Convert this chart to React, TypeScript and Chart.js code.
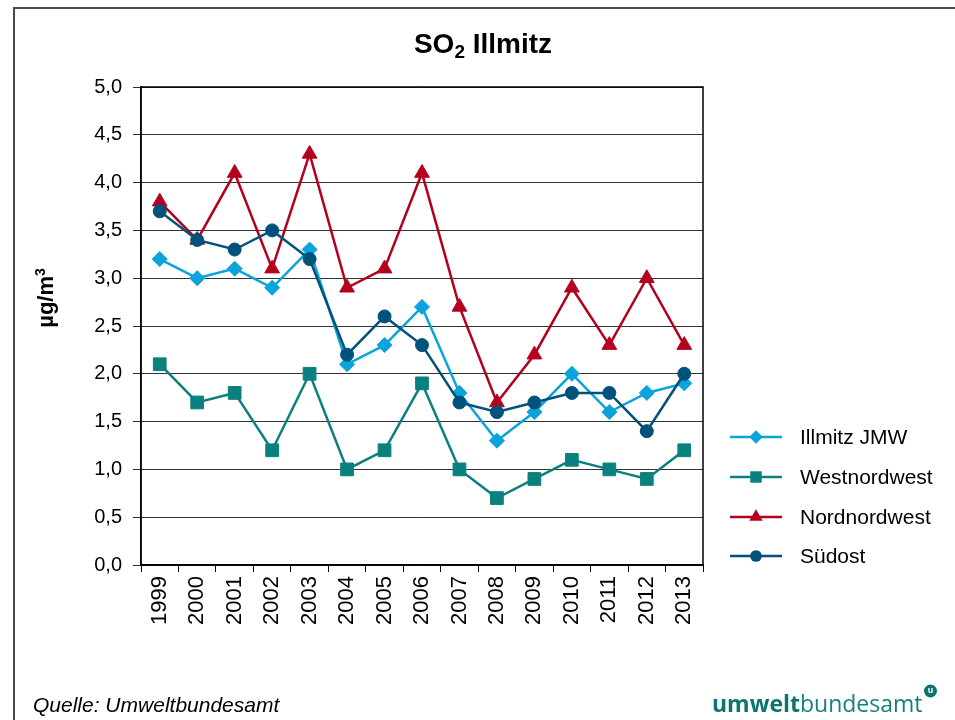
import React, { useEffect, useRef } from 'react';
import { Chart, registerables } from 'chart.js';

Chart.register(...registerables);

const years = ['1999', '2000', '2001', '2002', '2003', '2004', '2005', '2006', '2007', '2008', '2009', '2010', '2011', '2012', '2013'];
const illmitzJMW = [3.2, 3.0, 3.1, 2.9, 3.3, 2.1, 2.3, 2.7, 1.8, 1.3, 1.6, 2.0, 1.6, 1.8, 1.9];
const westnordwest = [2.1, 1.7, 1.8, 1.2, 2.0, 1.0, 1.2, 1.9, 1.0, 0.7, 0.9, 1.1, 1.0, 0.9, 1.2];
const nordnordwest = [3.8, 3.4, 4.1, 3.1, 4.3, 2.9, 3.1, 4.1, 2.7, 1.7, 2.2, 2.9, 2.3, 3.0, 2.3];
const suedost = [3.7, 3.4, 3.3, 3.5, 3.2, 2.2, 2.6, 2.3, 1.7, 1.6, 1.7, 1.8, 1.8, 1.4, 2.0];

const seriesNames = ['Illmitz JMW', 'Westnordwest', 'Nordnordwest', 'Südost'];
const seriesColors = ['#0AA3DC', '#0A817E', '#B4001E', '#00527C'];
const seriesStyles = ['rectRot', 'rect', 'triangle', 'circle'];
const seriesRadius = [7.5, 9, 8.5, 6.5];

const FONT = '"Liberation Sans", Arial, Helvetica, sans-serif';

function drawMarker(ctx: CanvasRenderingContext2D, style: string, x: number, y: number, r: number) {
  ctx.beginPath();
  if (style === 'circle') {
    ctx.arc(x, y, r, 0, Math.PI * 2);
  } else if (style === 'rect') {
    const s = Math.SQRT1_2 * r;
    ctx.rect(x - s, y - s, 2 * s, 2 * s);
  } else if (style === 'rectRot') {
    ctx.moveTo(x, y - r);
    ctx.lineTo(x + r, y);
    ctx.lineTo(x, y + r);
    ctx.lineTo(x - r, y);
    ctx.closePath();
  } else if (style === 'triangle') {
    const c = Math.cos(Math.PI / 6) * r;
    const s = Math.sin(Math.PI / 6) * r;
    ctx.moveTo(x, y - r);
    ctx.lineTo(x + c, y + s);
    ctx.lineTo(x - c, y + s);
    ctx.closePath();
  }
  ctx.fill();
}

const decorPlugin = {
  id: 'decor',
  afterDraw(chart: any) {
    const ctx: CanvasRenderingContext2D = chart.ctx;
    const ca = chart.chartArea;
    ctx.save();
    // plot border
    ctx.strokeStyle = '#000';
    ctx.lineWidth = 1.5;
    ctx.strokeRect(ca.left, ca.top, ca.right - ca.left, ca.bottom - ca.top);

    // outer frame
    ctx.strokeStyle = '#4a4a4a';
    ctx.lineWidth = 2;
    ctx.beginPath();
    ctx.moveTo(14, 720);
    ctx.lineTo(14, 8);
    ctx.lineTo(955, 8);
    ctx.stroke();

    // title
    ctx.fillStyle = '#000';
    ctx.textBaseline = 'alphabetic';
    ctx.textAlign = 'left';
    const big = `bold 28px ${FONT}`;
    const small = `bold 19px ${FONT}`;
    ctx.font = big;
    const wSO = ctx.measureText('SO').width;
    const wIll = ctx.measureText(' Illmitz').width;
    ctx.font = small;
    const w2 = ctx.measureText('2').width;
    const total = wSO + w2 + wIll;
    let tx = 483 - total / 2;
    const ty = 53;
    ctx.font = big;
    ctx.fillText('SO', tx, ty);
    tx += wSO;
    ctx.font = small;
    ctx.fillText('2', tx, ty + 5);
    tx += w2;
    ctx.font = big;
    ctx.fillText(' Illmitz', tx, ty);

    // y axis title
    ctx.save();
    ctx.translate(53, 298);
    ctx.rotate(-Math.PI / 2);
    ctx.font = `bold 22px ${FONT}`;
    const wMu = ctx.measureText('µg/m').width;
    ctx.font = `bold 14px ${FONT}`;
    const w3 = ctx.measureText('3').width;
    const tw = wMu + w3;
    ctx.font = `bold 22px ${FONT}`;
    ctx.fillText('µg/m', -tw / 2, 0);
    ctx.font = `bold 14px ${FONT}`;
    ctx.fillText('3', -tw / 2 + wMu, -8);
    ctx.restore();

    // legend
    ctx.font = `21px ${FONT}`;
    ctx.textBaseline = 'middle';
    const ly = [437, 477, 517, 556];
    for (let i = 0; i < seriesNames.length; i++) {
      const y = ly[i];
      ctx.strokeStyle = seriesColors[i];
      ctx.fillStyle = seriesColors[i];
      ctx.lineWidth = 2.5;
      ctx.beginPath();
      ctx.moveTo(730, y);
      ctx.lineTo(782, y);
      ctx.stroke();
      drawMarker(ctx, seriesStyles[i], 756, y, seriesRadius[i] * 0.9);
      ctx.fillStyle = '#000';
      ctx.fillText(seriesNames[i], 800, y + 1);
    }

    // footer
    ctx.textBaseline = 'alphabetic';
    ctx.fillStyle = '#000';
    ctx.font = `italic 21px ${FONT}`;
    ctx.fillText('Quelle: Umweltbundesamt', 33, 712);

    // logo
    const logoColor = '#0B746F';
    ctx.fillStyle = logoColor;
    ctx.font = `bold 23px "Open Sans", "Noto Sans", sans-serif`;
    ctx.fillText('umwelt', 712, 712);
    const wu = ctx.measureText('umwelt').width;
    ctx.font = `23px "Open Sans", "Noto Sans", sans-serif`;
    ctx.fillStyle = '#16807A';
    ctx.fillText('bundesamt', 712 + wu, 712);
    const wb = ctx.measureText('bundesamt').width;
    const cx = 712 + wu + wb + 8;
    ctx.fillStyle = logoColor;
    ctx.beginPath();
    ctx.arc(cx, 691, 6.5, 0, Math.PI * 2);
    ctx.fill();
    ctx.fillStyle = '#fff';
    ctx.font = `bold 9px ${FONT}`;
    ctx.textAlign = 'center';
    ctx.textBaseline = 'middle';
    ctx.fillText('u', cx, 691);
    ctx.restore();
  },
};

export default function App() {
  const ref = useRef<HTMLCanvasElement | null>(null);
  useEffect(() => {
    if (!ref.current) return;
    const datasets = [illmitzJMW, westnordwest, nordnordwest, suedost].map((d, i) => ({
      label: seriesNames[i],
      data: d,
      borderColor: seriesColors[i],
      backgroundColor: seriesColors[i],
      pointBackgroundColor: seriesColors[i],
      pointBorderColor: seriesColors[i],
      pointStyle: seriesStyles[i] as any,
      pointRadius: seriesRadius[i],
      pointBorderWidth: 1,
      borderWidth: 2.5,
      tension: 0,
      order: 3 - i,
    }));
    const chart = new Chart(ref.current, {
      type: 'line',
      data: { labels: years, datasets },
      options: {
        animation: false,
        responsive: false,
        devicePixelRatio: 1,
        layout: { padding: { top: 87, right: 252, bottom: 0, left: 0 } },
        plugins: {
          legend: { display: false },
          title: { display: false },
          tooltip: { enabled: false },
        },
        scales: {
          x: {
            offset: true,
            grid: { offset: true, drawOnChartArea: false, drawTicks: true, tickLength: 7, color: '#000', lineWidth: 1 },
            border: { display: true, color: '#000', width: 1.5 },
            ticks: { minRotation: 90, maxRotation: 90, autoSkip: false, color: '#000', font: { family: FONT, size: 22 }, padding: 4 },
            afterFit: (s: any) => { s.height = 155; },
          },
          y: {
            min: 0,
            max: 5,
            ticks: {
              stepSize: 0.5,
              color: '#000',
              font: { family: FONT, size: 20 },
              padding: 11,
              callback: (v: any) => Number(v).toFixed(1).replace('.', ','),
            },
            grid: { color: '#333', lineWidth: 1, drawTicks: true, tickLength: 8 },
            border: { display: true, color: '#000', width: 1.5 },
            afterFit: (s: any) => { s.width = 141; },
          },
        },
      },
      plugins: [decorPlugin],
    });
    return () => chart.destroy();
  }, []);
  return (
    <div style={{ position: 'fixed', left: 0, top: 0, width: 955, height: 720, background: '#fff' }}>
      <canvas ref={ref} width={955} height={720} style={{ width: 955, height: 720, display: 'block' }} />
    </div>
  );
}
